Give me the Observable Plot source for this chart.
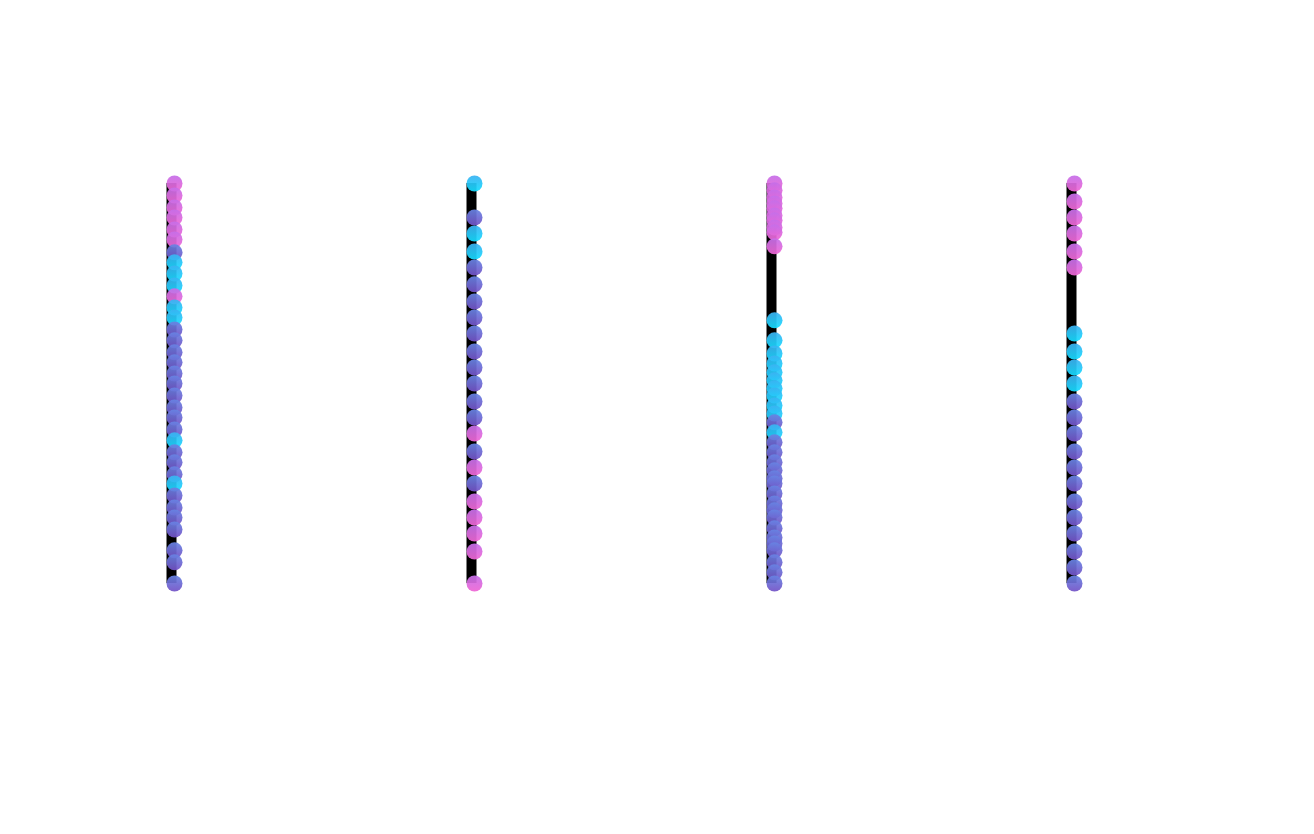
<!DOCTYPE html>
<html>
<head>
<meta charset="utf-8">
<script src="https://cdn.jsdelivr.net/npm/d3@7"></script>
<script src="https://cdn.jsdelivr.net/npm/@observablehq/plot@0.6"></script>
<style>
  html, body { margin: 0; padding: 0; background: #fff; overflow: hidden; }
  svg { display: block; }
</style>
</head>
<body>
<div id="chart"></div>
<script>
const categories = ["A", "B", "C", "D"];
// groups: "alpha" = pink gradient, "beta" = cyan gradient, "gamma" = violet gradient
const groupNames = ["alpha", "beta", "gamma"];

const valuesA = [100, 97, 94, 91.5, 88.5, 86, 82.8, 80.3, 77.5, 74.5, 71.8, 69, 66.5, 63.5, 60.8, 57.8, 55.3, 52.5, 50, 47, 44, 41.5, 38.5, 35.8, 32.8, 30.3, 27.3, 25, 22, 19, 16.5, 13.5, 8.3, 5.3, 0];
const groupsA = ["alpha","alpha","alpha","alpha","alpha","alpha","gamma","beta","beta","beta","alpha","beta","beta","gamma","gamma","gamma","gamma","gamma","gamma","gamma","gamma","gamma","gamma","beta","gamma","gamma","gamma","beta","gamma","gamma","gamma","gamma","gamma","gamma","gamma"];

const valuesB = [100, 91.5, 87.5, 83, 79, 74.8, 70.5, 66.5, 62.5, 58, 54, 50, 45.5, 41.5, 37.5, 33, 29, 25, 20.5, 16.5, 12.5, 8, 0];
const groupsB = ["beta","gamma","beta","beta","gamma","gamma","gamma","gamma","gamma","gamma","gamma","gamma","gamma","gamma","alpha","gamma","alpha","gamma","alpha","alpha","alpha","alpha","alpha"];

const valuesC = [100, 98.3, 96.5, 95, 93.8, 92, 90.8, 89, 87.8, 84.3, 65.8, 60.8, 57.5, 55, 52.8, 50.8, 48.8, 47, 44.5, 42.5, 40.3, 37.8, 35.3, 32.8, 30.3, 28.3, 26.3, 25, 22.5, 20, 18.3, 16.5, 13.8, 11.5, 10, 8.3, 5.3, 2.8, 0];
const groupsC = ["alpha","alpha","alpha","alpha","alpha","alpha","alpha","alpha","alpha","alpha","beta","beta","beta","beta","beta","beta","beta","beta","beta","beta","gamma","beta","gamma","gamma","gamma","gamma","gamma","gamma","gamma","gamma","gamma","gamma","gamma","gamma","gamma","gamma","gamma","gamma","gamma"];

const valuesD = [100, 95.5, 91.5, 87.5, 83, 79, 62.5, 58, 54, 50, 45.5, 41.5, 37.5, 33, 29, 25, 20.5, 16.5, 12.5, 8, 4, 0];
const groupsD = ["alpha","alpha","alpha","alpha","alpha","alpha","beta","beta","beta","beta","gamma","gamma","gamma","gamma","gamma","gamma","gamma","gamma","gamma","gamma","gamma","gamma"];

const columns = [[valuesA, groupsA], [valuesB, groupsB], [valuesC, groupsC], [valuesD, groupsD]];
const points = columns.flatMap(([vals, grps], i) =>
  vals.map((v, j) => ({cat: categories[i], value: v, group: grps[j]})));
const spans = columns.map(([vals], i) => ({cat: categories[i], lo: d3.min(vals), hi: d3.max(vals)}));

const gradients = {
  alpha: ["#c56fe9", "#ef66d4"],
  beta: ["#3cb2f2", "#14dcff"],
  gamma: ["#6784e3", "#7352c6"]
};

const chart = Plot.plot({
  width: 1314,
  height: 834,
  marginLeft: 24,
  marginRight: 90,
  marginTop: 183,
  marginBottom: 251,
  x: {type: "point", domain: categories, axis: null},
  y: {domain: [0, 100], axis: null},
  color: {type: "ordinal", domain: groupNames, range: groupNames.map(g => `url(#grad-${g})`)},
  marks: [
    Plot.ruleX(spans, {x: "cat", y1: "lo", y2: "hi", stroke: "black", strokeWidth: 10, dx: -3}),
    Plot.dot(points, {x: "cat", y: "value", r: 8, fill: "group", fillOpacity: 0.93, stroke: "none"})
  ]
});

const svg = d3.select(chart);
const defs = svg.insert("defs", ":first-child");
for (const g of groupNames) {
  const lg = defs.append("linearGradient").attr("id", `grad-${g}`)
    .attr("x1", 0).attr("y1", 0).attr("x2", 0).attr("y2", 1);
  lg.append("stop").attr("offset", "0%").attr("stop-color", gradients[g][0]);
  lg.append("stop").attr("offset", "100%").attr("stop-color", gradients[g][1]);
}

document.getElementById("chart").appendChild(chart);
</script>
</body>
</html>
